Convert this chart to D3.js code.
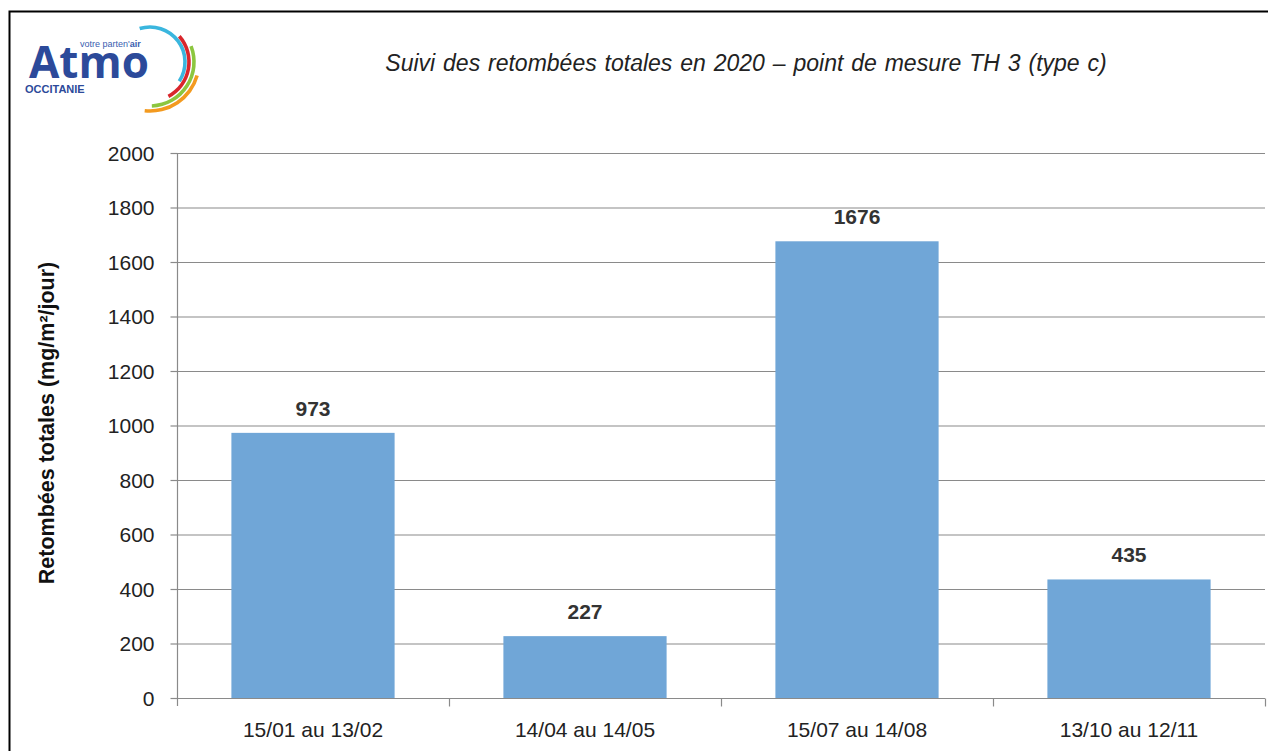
<!DOCTYPE html>
<html><head><meta charset="utf-8">
<script src="https://cdn.jsdelivr.net/npm/d3@7"></script>
<style>body{margin:0;background:#fff}svg{display:block}text{font-family:"Liberation Sans",Arial,sans-serif}</style>
</head><body><svg id="c" width="1268" height="751"></svg>
<script>
const categories = ["15/01 au 13/02","14/04 au 14/05","15/07 au 14/08","13/10 au 12/11"];
const values = [973, 227, 1676, 435];
const yTicks = [0,200,400,600,800,1000,1200,1400,1600,1800,2000];
const title = "Suivi des retombées totales en 2020 – point de mesure TH 3 (type c)";
const yTitle = "Retombées totales (mg/m²/jour)";

const svg = d3.select("#c");
const L = 177, R = 1265, T = 153, B = 698;
const x = d3.scaleBand().domain(categories).range([L, R]).paddingInner(0.4).paddingOuter(0.2);
const y = d3.scaleLinear().domain([0, 2000]).range([B, T]);

// frame
svg.append("path").attr("d","M9.5,751 V11.5 H1268").attr("fill","none").attr("stroke","#000").attr("stroke-width",2);

// logo
const lg = svg.append("g");
lg.append("text").attr("x",80).attr("y",47).attr("font-size",9).attr("fill","#3a5db0").text("votre parten'").append("tspan").attr("font-weight","bold").text("air");
lg.append("text").attr("x",29).attr("y",78).attr("font-size",44).attr("font-weight","bold").attr("fill","#2c4a9a").style("font-family","'Open Sans','Liberation Sans',sans-serif").text("Atmo");
lg.append("text").attr("x",25).attr("y",93).attr("font-size",11).attr("font-weight","bold").attr("fill","#2c4a9a").text("OCCITANIE");
const arcs = [{r:35,a0:-0.3,a1:2.15,c:"#3ab6de"},{r:39,a0:0.85,a1:2.65,c:"#d9262c"},{r:44,a0:1.2,a1:3.1,c:"#8cc63f"},{r:49,a0:1.85,a1:3.25,c:"#f39a1f"}];
arcs.forEach(a=>{
  lg.append("path").attr("transform","translate(150,62)")
    .attr("d", d3.arc()({innerRadius:a.r-1.8,outerRadius:a.r+1.8,startAngle:a.a0,endAngle:a.a1,cornerRadius:1.8}))
    .attr("fill",a.c);
});

// title
svg.append("text").attr("x",746).attr("y",71).attr("text-anchor","middle").attr("font-size",23).attr("font-style","italic").attr("word-spacing",1.5).attr("fill","#222").text(title);

// gridlines
svg.append("g").selectAll("line").data(yTicks.filter(d=>d>0)).join("line")
  .attr("x1",L).attr("x2",R).attr("y1",d=>y(d)+0.5).attr("y2",d=>y(d)+0.5).attr("stroke","#8a8a8a").attr("stroke-width",1.2);

// bars
svg.append("g").selectAll("rect").data(values).join("rect")
  .attr("x",(d,i)=>x(categories[i])).attr("width",x.bandwidth())
  .attr("y",d=>y(d)).attr("height",d=>B-y(d)).attr("fill","#70a6d7");

// value labels
svg.append("g").selectAll("text").data(values).join("text")
  .attr("x",(d,i)=>x(categories[i])+x.bandwidth()/2).attr("y",d=>y(d)-17)
  .attr("text-anchor","middle").attr("font-size",21).attr("font-weight","bold").attr("fill","#333").text(d=>d);

// y axis
const ya = svg.append("g").attr("transform",`translate(${L+0.5},0)`)
  .call(d3.axisLeft(y).tickValues(yTicks).tickFormat(d3.format("d")).tickSize(7).tickSizeOuter(0).tickPadding(16));
ya.select(".domain").attr("d",`M0,${T}V${B+8}`).attr("stroke","#8a8a8a").attr("stroke-width",1.2);
ya.selectAll(".tick line").attr("stroke","#8a8a8a").attr("stroke-width",1.2);
ya.selectAll(".tick text").attr("font-size",21).attr("fill","#222").style("font-family","'Liberation Sans',Arial,sans-serif").attr("dy","0.35em");

// x axis
const xa = svg.append("g").attr("transform",`translate(0,${B+0.5})`)
  .call(d3.axisBottom(x).tickSize(0).tickPadding(24));
xa.select(".domain").attr("d",`M${L},0H${R}`).attr("stroke","#8a8a8a").attr("stroke-width",1.2);
xa.selectAll(".tick text").attr("font-size",21).attr("fill","#222").style("font-family","'Liberation Sans',Arial,sans-serif");
const bounds = categories.map(c=>x(c)-x.step()*x.paddingInner()/2).slice(1).concat([R]);
xa.append("g").selectAll("line").data(bounds).join("line")
  .attr("x1",d=>Math.round(d)+0.5).attr("x2",d=>Math.round(d)+0.5).attr("y1",0).attr("y2",8).attr("stroke","#8a8a8a").attr("stroke-width",1.2);

// y title
svg.append("text").attr("transform","translate(54,423) rotate(-90)").attr("text-anchor","middle")
  .attr("font-size",21.5).attr("font-weight","bold").attr("fill","#111").text(yTitle);
</script></body></html>
